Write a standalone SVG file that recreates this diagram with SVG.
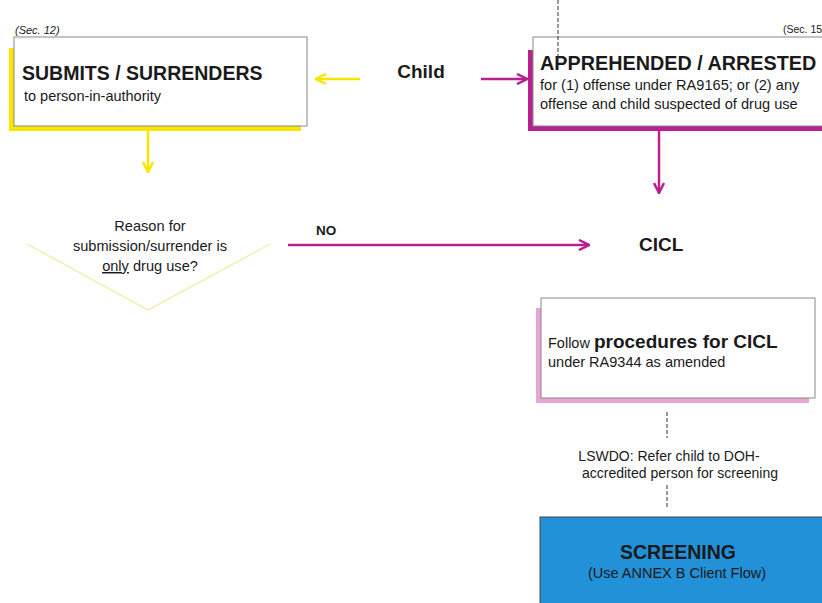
<svg xmlns="http://www.w3.org/2000/svg" width="822" height="603" viewBox="0 0 822 603">
<defs>
<style>
text{font-family:"Liberation Sans",Arial,sans-serif;fill:#1a1a1a}
.b{font-weight:bold}
.box{fill:#fff;stroke:#888;stroke-width:1}
.y{stroke:#f7e600;stroke-width:2.5;fill:none}
.m{stroke:#b8208f;stroke-width:2.5;fill:none}
.d{stroke:#333;stroke-width:1;stroke-dasharray:4 2;fill:none}
</style>
<marker id="ay" viewBox="0 0 10 10" refX="9" refY="5" markerWidth="5" markerHeight="5" orient="auto" markerUnits="strokeWidth"><path d="M1,1 L9,5 L1,9" fill="none" stroke="#f7e600" stroke-width="2"/></marker>
<marker id="am" viewBox="0 0 10 10" refX="9" refY="5" markerWidth="5" markerHeight="5" orient="auto" markerUnits="strokeWidth"><path d="M1,1 L9,5 L1,9" fill="none" stroke="#b8208f" stroke-width="2"/></marker>
</defs>
<rect width="822" height="603" fill="#fff"/>

<g id="submits">
<text x="15" y="34" font-size="11" font-style="italic">(Sec. 12)</text>
<rect x="9" y="48" width="292" height="83" fill="#f7e600"/>
<rect class="box" x="14" y="37" width="293" height="89"/>
<text class="b" x="22" y="80" font-size="19.5">SUBMITS / SURRENDERS</text>
<text x="24" y="101" font-size="14.5">to person-in-authority</text>
</g>

<g id="child">
<text class="b" x="421" y="78" font-size="19" text-anchor="middle">Child</text>
</g>

<g id="apprehended">
<text x="783" y="33" font-size="10.5">(Sec. 15)</text>
<rect x="528" y="50" width="300" height="81" fill="#b8208f"/>
<rect class="box" x="533" y="37" width="295" height="89"/>
<text class="b" x="540" y="70" font-size="19.8">APPREHENDED / ARRESTED</text>
<text x="540" y="90" font-size="14.6">for (1) offense under RA9165; or (2) any</text>
<text x="540" y="109" font-size="14.6">offense and child suspected of drug use</text>
</g>

<g id="decision">
<path d="M27,244 L148,310 L270,244" fill="none" stroke="#f0eba0" stroke-width="1.2"/>
<text x="150" y="231" font-size="14.6" text-anchor="middle">Reason for</text>
<text x="150" y="251" font-size="14.6" text-anchor="middle">submission/surrender is</text>
<text x="150" y="271" font-size="14.6" text-anchor="middle"><tspan text-decoration="underline">only</tspan> drug use?</text>
</g>

<g id="cicl">
<text class="b" x="639" y="251" font-size="19">CICL</text>
</g>

<g id="follow">
<rect x="536" y="308" width="273" height="95" fill="#e8a6d4"/>
<rect class="box" x="541" y="298" width="274" height="100"/>
<text x="548" y="348" font-size="14.5">Follow <tspan class="b" font-size="19">procedures for CICL</tspan></text>
<text x="548" y="367" font-size="14.5">under RA9344 as amended</text>
</g>

<g id="lswdo">
<text x="669" y="461" font-size="14" text-anchor="middle">LSWDO: Refer child to DOH-</text>
<text x="680" y="478" font-size="14" text-anchor="middle">accredited person for screening</text>
</g>

<g id="screening">
<rect x="540" y="517" width="283" height="90" fill="#2391d8" stroke="#444" stroke-width="1"/>
<text class="b" x="678" y="559" font-size="19.5" text-anchor="middle">SCREENING</text>
<text x="677" y="578" font-size="14.5" text-anchor="middle">(Use ANNEX B Client Flow)</text>
</g>

<g id="connectors">
<line class="y" x1="360" y1="79" x2="316" y2="79" marker-end="url(#ay)"/>
<line class="m" x1="481" y1="79" x2="527" y2="79" marker-end="url(#am)"/>
<line class="y" x1="148" y1="131" x2="148" y2="172" marker-end="url(#ay)"/>
<line class="m" x1="659" y1="131" x2="659" y2="193" marker-end="url(#am)"/>
<line class="m" x1="288" y1="245" x2="589" y2="245" marker-end="url(#am)"/>
<text class="b" x="316" y="235" font-size="13.5">NO</text>
<line class="d" x1="558" y1="0" x2="558" y2="60"/>
<line class="d" x1="667" y1="412" x2="667" y2="438"/>
<line class="d" x1="667" y1="485" x2="667" y2="508"/>
</g>
</svg>
